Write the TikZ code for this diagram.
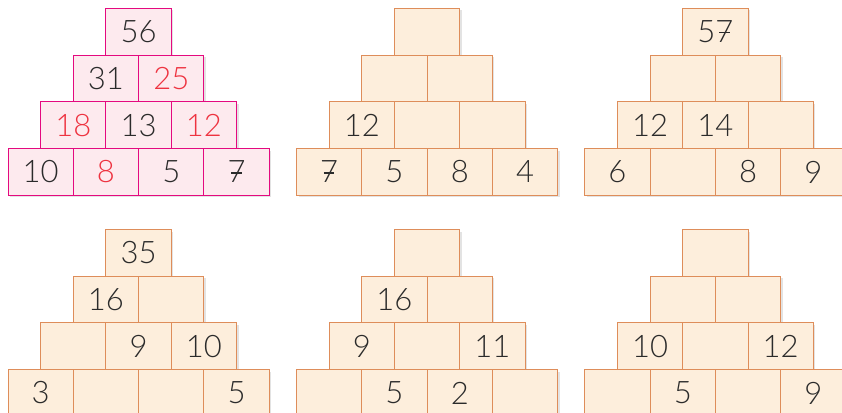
\documentclass[tikz,border=0pt]{standalone}
\usepackage{fontspec}
\setmainfont{Lato Light}
\usetikzlibrary{shadows}
\definecolor{pinkline}{HTML}{E4097F}
\definecolor{pinkfill}{HTML}{FDEAEE}
\definecolor{orline}{HTML}{DE8D5A}
\definecolor{orfill}{HTML}{FDEEDC}
\definecolor{txt}{HTML}{2B2B2B}
\definecolor{redtxt}{HTML}{EE3340}
\newcommand\R[1]{\textcolor{redtxt}{#1}}
\newcommand\sv{\ooalign{7\cr\hidewidth\rule[0.3em]{0.34em}{0.05em}\hidewidth}}
\newcommand\E{}
\def\bw{65.3}
\def\bh{46.7}
\tikzset{
  cell/.style={rectangle, minimum width=65.3pt, minimum height=46.7pt, inner sep=0pt,
    line width=1pt, anchor=north west, text=txt, font=\fontsize{31}{36}\selectfont,
    drop shadow={shadow xshift=2pt, shadow yshift=-2pt, opacity=0.18, fill=black!60}},
  pinkcell/.style={cell, draw=pinkline, fill=pinkfill},
  orcell/.style={cell, draw=orline, fill=orfill}
}
\newcommand\pyramid[8]{%
  \foreach \t [count=\i] in {#5} {\node[#4] (#1-1-\i) at ({#2+1.5*\bw+(\i-1)*\bw},{#3}) {\t};}
  \foreach \t [count=\i] in {#6} {\node[#4] (#1-2-\i) at ({#2+1.0*\bw+(\i-1)*\bw},{#3+\bh}) {\t};}
  \foreach \t [count=\i] in {#7} {\node[#4] (#1-3-\i) at ({#2+0.5*\bw+(\i-1)*\bw},{#3+2*\bh}) {\t};}
  \foreach \t [count=\i] in {#8} {\node[#4] (#1-4-\i) at ({#2+(\i-1)*\bw},{#3+3*\bh}) {\t};}
}
\begin{document}
\begin{tikzpicture}[x=1pt,y=-1pt]
\useasboundingbox[fill=white] (0,0) rectangle (842,412);
\pyramid{a}{7.5}{8}{pinkcell}{56}{31,\R{25}}{\R{18},13,\R{12}}{10,\R{8},5,\sv}
\pyramid{b}{296}{8}{orcell}{\E}{\E,\E}{12,\E,\E}{\sv,5,8,4}
\pyramid{c}{584.3}{8}{orcell}{5\sv}{\E,\E}{12,14,\E}{6,\E,8,9}
\pyramid{d}{7.5}{229}{orcell}{35}{16,\E}{\E,9,10}{3,\E,\E,5}
\pyramid{e}{296}{229}{orcell}{\E}{16,\E}{9,\E,11}{\E,5,2,\E}
\pyramid{f}{584.3}{229}{orcell}{\E}{\E,\E}{10,\E,12}{\E,5,\E,9}
\end{tikzpicture}
\end{document}
